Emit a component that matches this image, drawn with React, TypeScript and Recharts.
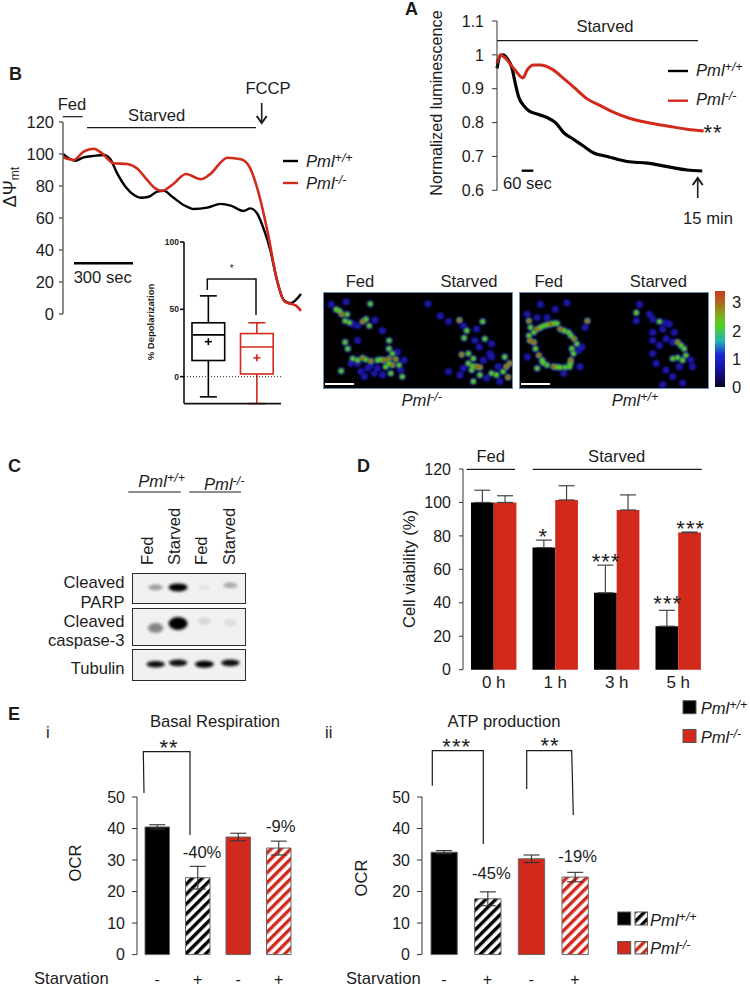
import {
  Bar,
  Cell,
  ComposedChart,
  ErrorBar,
  Line,
  ReferenceLine,
  Scatter,
  ScatterChart,
  XAxis,
  YAxis,
} from "recharts";

const BLACK = "#000000";
const RED = "#d1291b";
const INK = "#1c1c1c";
const FONT = "'Liberation Sans', Arial, sans-serif";

// panel A, minutes / normalized luminescence
const lumTimeWt = [0, 0.24, 0.44, 0.73, 1.1, 1.34, 1.59, 1.95, 2.32, 2.93, 3.66, 4.27, 4.88, 5.61, 6.34, 7.07, 8.05, 9.51, 10.98, 12.44, 13.9, 15];
const lumWt = [0.96, 0.998, 1.0, 0.99, 0.96, 0.915, 0.875, 0.85, 0.835, 0.825, 0.815, 0.8, 0.77, 0.75, 0.73, 0.71, 0.7, 0.685, 0.68, 0.67, 0.66, 0.657];
const lumTimeKo = [0, 0.24, 0.61, 1.22, 1.9, 2.2, 2.68, 3.17, 4.02, 4.88, 5.61, 6.59, 7.56, 8.54, 9.51, 10.98, 12.44, 13.9, 15.1];
const lumKo = [0.975, 1.0, 0.99, 0.96, 0.932, 0.955, 0.97, 0.97, 0.958, 0.93, 0.905, 0.87, 0.85, 0.83, 0.815, 0.8, 0.79, 0.78, 0.775];

// panel B, seconds / delta psi
const psiTimeWt = [0, 29, 62, 104, 155, 206, 239, 273, 315, 358, 392, 433, 475, 509, 551, 610, 660, 728, 795, 846, 910, 944, 978, 1011, 1045, 1079, 1112, 1146, 1200];
const psiWt = [100, 97.3, 95.8, 97.9, 98.8, 99.4, 96.7, 87.9, 79.6, 74.4, 72.7, 73.3, 76.5, 77, 73.3, 68, 65.6, 66.5, 68.8, 67.7, 64.4, 66, 63, 53.5, 40, 21, 8.8, 6.7, 12.5];
const psiTimeKo = [0, 54, 104, 155, 197, 256, 323, 374, 424, 465, 499, 550, 620, 695, 737, 830, 897, 940, 982, 1033, 1075, 1118, 1175, 1200];
const psiKo = [97.9, 96.3, 101.5, 103.3, 100.4, 94.2, 93.8, 91, 83.8, 78.5, 77, 80.6, 87.5, 84.2, 86.9, 97.7, 96.7, 92, 77.5, 50.4, 23.3, 7.7, 5.2, 2];

// panel B inset
const boxNames = ["wt", "ko"];
const boxLow = [-15, -20];
const boxQ1 = [12, 2];
const boxMedian = [31, 22];
const boxQ3 = [40, 32];
const boxHigh = [60, 40];
const boxMean = [26, 14];
const boxColors = [BLACK, RED];

// panel D
const viabilityHours = ["0 h", "1 h", "3 h", "5 h"];
const viabilityWt = [100, 73, 46, 26];
const viabilityKo = [100, 101.5, 95.5, 82];
const viabilityWtErr = [7.3, 4.5, 16.5, 9.5];
const viabilityKoErr = [4, 8.5, 9, 0.3];

// panel E
const starvationSigns = ["-", "+", "-", "+"];
const basalOcr = [40.5, 24.4, 37.3, 33.8];
const basalErr = [0.7, 3.6, 1.2, 2.2];
const atpOcr = [32.5, 17.7, 30.4, 24.6];
const atpErr = [0.5, 2.2, 1.2, 1.5];
const ocrFills = [BLACK, "url(#hatchBlack)", RED, "url(#hatchRed)"];

// panel C, band strength per lane
const laneCenters = [0.204, 0.406, 0.643, 0.877];
const parpBands = [0.35, 1, 0.06, 0.3];
const caspaseBands = [0.45, 1, 0.1, 0.08];
const tubulinBands = [0.95, 0.95, 1, 0.95];

// heat map spots: x, y, level
const heatKo: number[][] = [
  [30, 130, 1], [45, 145, 2], [62, 160, 3], [78, 160, 2], [55, 150, 2], [72, 180, 2], [85, 185, 2], [95, 190, 1], [110, 195, 1],
  [125, 182, 3], [135, 175, 2], [145, 195, 2], [162, 178, 1], [148, 128, 2], [75, 122, 1], [185, 210, 1],
  [72, 245, 2], [80, 265, 2], [110, 240, 1], [95, 295, 2], [125, 293, 3], [110, 300, 2], [135, 298, 2], [150, 303, 3],
  [170, 300, 2], [180, 298, 2], [190, 300, 3], [205, 295, 3], [225, 297, 3], [205, 240, 2], [205, 265, 2], [215, 280, 2],
  [230, 275, 1], [195, 320, 2], [205, 310, 2], [215, 315, 3], [235, 315, 2], [210, 340, 2], [245, 350, 2], [185, 345, 1],
  [160, 340, 1], [140, 325, 1], [120, 335, 1], [110, 310, 1], [90, 310, 1], [130, 350, 1], [60, 333, 2],
  [240, 330, 1], [250, 300, 1], [170, 325, 1], [150, 315, 1],
  [323, 128, 1], [360, 165, 1], [385, 182, 1], [418, 178, 3], [430, 195, 1], [488, 182, 2], [440, 210, 2],
  [470, 205, 1], [432, 232, 2], [465, 240, 1], [495, 235, 2], [515, 250, 1], [478, 260, 1], [510, 280, 1],
  [425, 283, 3], [445, 280, 2], [460, 295, 2], [490, 300, 1], [445, 310, 2], [458, 318, 2], [470, 320, 3], [480, 322, 3],
  [455, 330, 2], [430, 325, 1], [385, 335, 1], [420, 345, 1], [460, 365, 2], [515, 340, 2], [530, 345, 2],
  [550, 335, 2], [560, 320, 3], [565, 352, 3], [555, 290, 2], [570, 310, 3], [500, 355, 1], [540, 365, 1],
  [480, 345, 2], [535, 320, 1], [515, 290, 1],
];
const heatWt: number[][] = [
  [625, 180, 3], [630, 200, 2], [628, 240, 3], [640, 245, 3], [650, 205, 3], [660, 200, 2], [670, 195, 2], [680, 192, 2], [690, 190, 3],
  [700, 188, 2], [710, 188, 2], [720, 205, 3], [732, 210, 2], [745, 215, 2], [752, 225, 2], [762, 235, 3], [770, 250, 2], [755, 265, 2], [760, 280, 2],
  [752, 300, 3], [750, 310, 2], [748, 320, 2], [735, 322, 2], [720, 322, 2], [710, 321, 2], [700, 320, 3], [680, 315, 2], [668, 308, 2], [655, 285, 3], [645, 265, 2],
  [665, 300, 2], [640, 215, 2], [625, 225, 2], [802, 180, 3], [795, 200, 1], [650, 325, 2], [620, 290, 1],
  [650, 170, 1], [680, 170, 1], [705, 145, 1], [740, 125, 1], [660, 130, 1], [775, 270, 1], [785, 260, 1],
  [730, 340, 1], [780, 320, 1], [620, 160, 1],
  [950, 155, 2], [950, 180, 1], [960, 130, 1], [1000, 175, 1], [1020, 182, 2], [1035, 185, 1], [1050, 190, 1], [1000, 215, 1],
  [1030, 205, 1], [1065, 215, 1], [1075, 245, 3], [1085, 255, 2], [1095, 265, 2], [1060, 245, 1], [1100, 285, 2], [1075, 292, 2],
  [1060, 295, 2], [1115, 300, 1], [1090, 300, 2], [1020, 255, 1], [1000, 280, 1], [1010, 310, 1], [1040, 330, 1],
  [1080, 320, 1], [1120, 320, 1], [1030, 375, 1], [1090, 370, 1], [1060, 350, 1], [990, 160, 1], [1000, 240, 1],
  [1040, 235, 1],
];

const zipLine = (t: number[], v: number[]) => t.map((x, i) => ({ t: x, v: v[i] }));

// axisX/top/bottom are page pixels of the plot area
const frame = (axisX: number, top: number, bottom: number, w: number, below = 10, axisShown = false) => ({
  style: { position: "absolute" as const, left: axisX - 44, top: top - 10 },
  width: w + 44 + 8,
  height: bottom - top + 10 + below,
  margin: { top: 10, right: 8, left: 0, bottom: axisShown ? 0 : below },
});

const tickFont = { fontSize: 16, fill: INK, fontFamily: FONT };

const T = ({ x, y, size = 16.6, anchor = "start", bold = false, rot = false, children }: any) => (
  <text
    x={x}
    y={y}
    fontSize={size}
    fontFamily={FONT}
    fontWeight={bold ? 700 : 400}
    textAnchor={anchor}
    fill={INK}
    transform={rot ? `rotate(-90 ${x} ${y})` : undefined}
  >
    {children}
  </text>
);

const Pml = ({ x, y, sup, anchor = "start" }: any) => (
  <text x={x} y={y} fontSize={16.6} fontFamily={FONT} fontStyle="italic" textAnchor={anchor} fill={INK}>
    Pml
    <tspan dy={-5} fontSize={12.5}>
      {sup}
    </tspan>
  </text>
);

const Stars = ({ x, y, children }: any) => (
  <text x={x} y={y + 12} fontSize={22} letterSpacing={1} fontFamily={FONT} textAnchor="middle" fill={INK}>
    {children}
  </text>
);

const Seg = ({ pts, color = INK, w = 1.2 }: any) => (
  <polyline points={pts} fill="none" stroke={color} strokeWidth={w} />
);

const Arrow = ({ x, from, to }: any) => {
  const d = to > from ? -1 : 1;
  return (
    <polyline
      points={`${x - 5},${to + d * 7} ${x},${to} ${x + 5},${to + d * 7}`}
      fill="none"
      stroke={INK}
      strokeWidth={2}
    />
  );
};

const LumChart = () => {
  const f = frame(496.7, 20.7, 190, 208);
  return (
    <ComposedChart {...f}>
      <XAxis type="number" dataKey="t" domain={[0, 15.2]} hide />
      <YAxis
        width={44}
        domain={[0.6, 1.1]}
        ticks={[0.6, 0.7, 0.8, 0.9, 1, 1.1]}
        interval={0}
        tick={tickFont}
        tickSize={5}
        tickMargin={8}
        stroke="#333"
      />
      <Line data={zipLine(lumTimeWt, lumWt)} dataKey="v" type="monotone" stroke={BLACK} strokeWidth={3.2} dot={false} isAnimationActive={false} />
      <Line data={zipLine(lumTimeKo, lumKo)} dataKey="v" type="monotone" stroke={RED} strokeWidth={3} dot={false} isAnimationActive={false} />
    </ComposedChart>
  );
};

const PsiChart = () => {
  const f = frame(62.7, 122, 314, 238);
  return (
    <ComposedChart {...f}>
      <XAxis type="number" dataKey="t" domain={[0, 1200]} hide />
      <YAxis
        width={44}
        domain={[0, 120]}
        ticks={[0, 20, 40, 60, 80, 100, 120]}
        interval={0}
        tick={{ ...tickFont, fontSize: 16.5 }}
        tickSize={4}
        tickMargin={5}
        stroke="#666"
        strokeWidth={1.5}
      />
      <Line data={zipLine(psiTimeWt, psiWt)} dataKey="v" type="monotone" stroke={BLACK} strokeWidth={2.4} dot={false} isAnimationActive={false} />
      <Line data={zipLine(psiTimeKo, psiKo)} dataKey="v" type="monotone" stroke={RED} strokeWidth={2.6} dot={false} isAnimationActive={false} />
    </ComposedChart>
  );
};

const BoxShape = ({ x, y, width, height, payload, index }: any) => {
  const top = Math.min(y, y + height);
  const ppu = Math.abs(height) / (payload.q3 - payload.q1);
  const yOf = (v: number) => top + (payload.q3 - v) * ppu;
  const c = boxColors[index];
  const mid = x + width / 2;
  return (
    <g stroke={c} strokeWidth={1.6} fill="none">
      <rect x={x} y={top} width={width} height={Math.abs(height)} fill="#fff" />
      <line x1={mid} x2={mid} y1={yOf(payload.high)} y2={top} />
      <line x1={mid} x2={mid} y1={yOf(payload.q1)} y2={yOf(payload.low)} />
      <line x1={mid - 8.5} x2={mid + 8.5} y1={yOf(payload.high)} y2={yOf(payload.high)} />
      <line x1={mid - 8.5} x2={mid + 8.5} y1={yOf(payload.low)} y2={yOf(payload.low)} />
      <line x1={x} x2={x + width} y1={yOf(payload.median)} y2={yOf(payload.median)} />
      <line x1={mid - 3.5} x2={mid + 3.5} y1={yOf(payload.mean)} y2={yOf(payload.mean)} />
      <line x1={mid} x2={mid} y1={yOf(payload.mean) - 3.5} y2={yOf(payload.mean) + 3.5} />
    </g>
  );
};

const BoxInset = () => {
  const data = boxNames.map((name, i) => ({
    name,
    low: boxLow[i],
    q1: boxQ1[i],
    median: boxMedian[i],
    q3: boxQ3[i],
    high: boxHigh[i],
    mean: boxMean[i],
  }));
  const f = frame(184.3, 241.7, 403.3, 97, 6, true);
  return (
    <ComposedChart {...f} data={data}>
      <XAxis dataKey="name" tick={false} tickLine={false} height={6} stroke="#111" strokeWidth={1.6} />
      <YAxis
        width={44}
        domain={[-20, 100]}
        ticks={[0, 50, 100]}
        interval={0}
        tick={{ fontSize: 8.5, fontWeight: 700, fill: INK, fontFamily: FONT }}
        tickSize={4}
        tickMargin={1}
        stroke="#111"
        strokeWidth={1.6}
      />
      <ReferenceLine y={0} stroke="#222" strokeDasharray="1 2" />
      <Bar dataKey={(d: any) => [d.q1, d.q3]} barSize={32.7} shape={BoxShape} isAnimationActive={false} />
    </ComposedChart>
  );
};

const ViabilityChart = () => {
  const data = viabilityHours.map((hour, i) => ({
    hour,
    wt: viabilityWt[i],
    ko: viabilityKo[i],
    wtErr: [0, viabilityWtErr[i]],
    koErr: [0, viabilityKoErr[i]],
  }));
  const f = frame(462.7, 469.3, 670, 246, 26, true);
  return (
    <ComposedChart {...f} data={data} barGap={0}>
      <XAxis dataKey="hour" tick={{ ...tickFont, fontSize: 17 }} tickLine={false} axisLine={false} tickMargin={0} height={26} />
      <YAxis
        width={44}
        domain={[0, 120]}
        ticks={[0, 20, 40, 60, 80, 100, 120]}
        interval={0}
        tick={tickFont}
        tickSize={4}
        tickMargin={8}
        stroke="#333"
      />
      <Bar dataKey="wt" fill={BLACK} barSize={22.7} isAnimationActive={false}>
        <ErrorBar dataKey="wtErr" direction="y" width={8} stroke="#444" strokeWidth={1.2} isAnimationActive={false} />
      </Bar>
      <Bar dataKey="ko" fill={RED} barSize={22.7} isAnimationActive={false}>
        <ErrorBar dataKey="koErr" direction="y" width={8} stroke="#444" strokeWidth={1.2} isAnimationActive={false} />
      </Bar>
    </ComposedChart>
  );
};

const OcrChart = ({ axisX, w, barW, values, errs }: any) => {
  const data = starvationSigns.map((sign, i) => ({ sign, ocr: values[i], err: errs[i] }));
  const f = frame(axisX, 796.7, 954.3, w, 32, true);
  return (
    <ComposedChart {...f} data={data}>
      <XAxis dataKey="sign" tick={tickFont} tickLine={false} axisLine={false} tickMargin={13} height={32} />
      <YAxis
        width={44}
        domain={[0, 50]}
        ticks={[0, 10, 20, 30, 40, 50]}
        interval={0}
        tick={tickFont}
        tickSize={5}
        tickMargin={7}
        stroke="#333"
      />
      <Bar dataKey="ocr" barSize={barW} stroke="#666" strokeWidth={1} isAnimationActive={false}>
        {data.map((d, i) => (
          <Cell key={i} fill={ocrFills[i]} />
        ))}
        <ErrorBar dataKey="err" direction="y" width={8} stroke="#333" strokeWidth={1.1} isAnimationActive={false} />
      </Bar>
    </ComposedChart>
  );
};

const Blot = ({ left, top, w, h, bands, thick, yPos }: any) => {
  const data = bands.map((level: number, i: number) => ({ lane: laneCenters[i], y: yPos[i], level }));
  return (
    <div
      style={{
        position: "absolute",
        left,
        top,
        width: w,
        height: h,
        boxSizing: "border-box",
        border: "1.4px solid #2a2a2a",
        background: "#f1f1f1",
      }}
    >
      <ScatterChart width={w - 3} height={h - 3} margin={{ top: 0, right: 0, bottom: 0, left: 0 }}>
        <XAxis type="number" dataKey="lane" domain={[0, 1]} hide />
        <YAxis type="number" dataKey="y" domain={[0, 1]} hide />
        <Scatter
          data={data}
          isAnimationActive={false}
          shape={({ cx, cy, payload }: any) => (
            <ellipse
              cx={cx}
              cy={cy}
              rx={6 + 3.5 * payload.level}
              ry={thick * (0.55 + 0.45 * payload.level)}
              fill="#000"
              opacity={payload.level}
              filter="url(#softBand)"
            />
          )}
        />
      </ScatterChart>
    </div>
  );
};

const heatLayers = [
  { min: 1, r: 3.6, fill: "#1a14a8" },
  { min: 2, r: 2.6, fill: "#58cf22" },
  { min: 3, r: 1.7, fill: "#c9361e" },
];

const HeatPanel = ({ left, spots, domain }: any) => {
  const data = spots.map((s: number[]) => ({ x: s[0], y: s[1], level: s[2] }));
  return (
    <div
      style={{
        position: "absolute",
        left,
        top: 291.5,
        width: 190,
        height: 97,
        boxSizing: "border-box",
        background: "#000",
        border: "1px solid #6d8cb5",
        overflow: "hidden",
      }}
    >
      <ScatterChart width={188} height={95} margin={{ top: 0, right: 0, bottom: 0, left: 0 }}>
        <XAxis type="number" dataKey="x" domain={domain} hide />
        <YAxis type="number" dataKey="y" domain={[95, 385]} reversed hide />
        {heatLayers.map((layer) => (
          <Scatter
            key={layer.min}
            data={data.filter((d: any) => d.level >= layer.min)}
            isAnimationActive={false}
            shape={({ cx, cy }: any) => <circle cx={cx} cy={cy} r={layer.r} fill={layer.fill} filter="url(#soft)" />}
          />
        ))}
      </ScatterChart>
    </div>
  );
};

const Annotations = () => (
  <svg width={750} height={987} style={{ position: "absolute", left: 0, top: 0, pointerEvents: "none" }}>
    {/* A */}
    <T x={405} y={15} size={18} bold>A</T>
    <T x={605} y={32} anchor="middle">Starved</T>
    <Seg pts="497,40.7 698,40.7" />
    <T x={442} y={103} size={16.2} anchor="middle" rot>Normalized luminescence</T>
    <Seg pts="668,71 688,71" color={BLACK} w={2.4} />
    <Pml x={696} y={76} sup="+/+" />
    <Seg pts="668,100.7 688,100.7" color={RED} w={2.4} />
    <Pml x={696} y={105} sup="-/-" />
    <Stars x={713} y={128}>**</Stars>
    <Seg pts="521.7,170.7 533.3,170.7" color={BLACK} w={2.4} />
    <T x={503} y={189}>60 sec</T>
    <Seg pts="697.7,198 697.7,179" w={1.6} />
    <Arrow x={697.7} from={198} to={178} />
    <T x={708} y={224} anchor="middle">15 min</T>

    {/* B */}
    <T x={9} y={80} size={18} bold>B</T>
    <T x={72} y={110} anchor="middle">Fed</T>
    <Seg pts="62.7,116.7 82.7,116.7" />
    <T x={156.7} y={121} anchor="middle">Starved</T>
    <Seg pts="87,127.7 256,127.7" />
    <T x={268} y={94} anchor="middle">FCCP</T>
    <Seg pts="261.7,103 261.7,122" w={1.6} />
    <Arrow x={261.7} from={103} to={123} />
    <text x={16} y={187} fontSize={18} fontFamily={FONT} textAnchor="middle" fill={INK} transform="rotate(-90 16 187)">
      ΔΨ
      <tspan dy={3} fontSize={12}>mt</tspan>
    </text>
    <Seg pts="283,161 298,161" color={BLACK} w={2.4} />
    <Pml x={306} y={167} sup="+/+" />
    <Seg pts="283,183 298,183" color={RED} w={2.4} />
    <Pml x={306} y={189} sup="-/-" />
    <Seg pts="74,263.3 133,263.3" color={BLACK} w={2.4} />
    <T x={102.7} y={283} anchor="middle">300 sec</T>
    <T x={154} y={322} size={9.5} bold anchor="middle" rot>% Depolarization</T>
    <Seg pts="207.3,290 207.3,279 256,279 256,315" color="#111" w={1.5} />
    <text x={231.7} y={272} fontSize={10} fontFamily={FONT} textAnchor="middle" fill={INK}>*</text>

    {/* heat maps */}
    <T x={360} y={287.3} anchor="middle">Fed</T>
    <T x={469} y={287.3} anchor="middle">Starved</T>
    <T x={548.7} y={287.3} anchor="middle">Fed</T>
    <T x={658.3} y={287.3} anchor="middle">Starved</T>
    <Pml x={421.7} y={405.7} sup="-/-" anchor="middle" />
    <Pml x={635} y={405.7} sup="+/+" anchor="middle" />
    <T x={732} y={308}>3</T>
    <T x={732} y={336.5}>2</T>
    <T x={732} y={365}>1</T>
    <T x={732} y={392.5}>0</T>

    {/* C */}
    <T x={8} y={472} size={18} bold>C</T>
    <Pml x={138.3} y={487.3} sup="+/+" />
    <Seg pts="128.3,492 180.7,492" />
    <Pml x={204} y={490} sup="-/-" />
    <Seg pts="189.3,492 241,492" />
    <T x={153} y={565} rot>Fed</T>
    <T x={180} y={565} rot>Starved</T>
    <T x={207} y={565} rot>Fed</T>
    <T x={235} y={565} rot>Starved</T>
    <T x={124.5} y={588.3} anchor="end">Cleaved</T>
    <T x={124.5} y={607.7} anchor="end">PARP</T>
    <T x={124.5} y={626.7} anchor="end">Cleaved</T>
    <T x={124.5} y={646} anchor="end">caspase-3</T>
    <T x={124.5} y={674.3} anchor="end">Tubulin</T>

    {/* D */}
    <T x={357} y={472} size={18} bold>D</T>
    <T x={490.7} y={462} anchor="middle">Fed</T>
    <Seg pts="466.7,469.3 515,469.3" />
    <T x={616.7} y={462} anchor="middle">Starved</T>
    <Seg pts="532.7,469.3 701.7,469.3" />
    <T x={415} y={569} anchor="middle" rot>Cell viability (%)</T>
    <Stars x={543.3} y={531.7}>*</Stars>
    <Stars x={606} y={557.3}>***</Stars>
    <Stars x={667.7} y={599.3}>***</Stars>
    <Stars x={690.7} y={524}>***</Stars>
    <rect x={683} y={700.7} width={13} height={13} fill={BLACK} stroke="#555" />
    <Pml x={700.7} y={714} sup="+/+" />
    <rect x={683} y={729.5} width={13} height={13} fill={RED} stroke="#555" />
    <Pml x={700.7} y={743} sup="-/-" />

    {/* E */}
    <T x={8} y={720} size={18} bold>E</T>
    <T x={46} y={738}>i</T>
    <T x={325} y={738}>ii</T>
    <T x={215} y={726.7} anchor="middle">Basal Respiration</T>
    <T x={504} y={726.7} anchor="middle">ATP production</T>
    <Stars x={169} y={743.3}>**</Stars>
    <Seg pts="144,793 143.3,751.7 190,751.7 190,835" />
    <Stars x={456.7} y={741.7}>***</Stars>
    <Seg pts="432.3,785.7 432.3,750.7 483.3,750.7 483.3,844" />
    <Stars x={550} y={740.7}>**</Stars>
    <Seg pts="526.7,789 526.7,750.7 571.7,750.7 573.3,815" />
    <T x={202} y={857.7} anchor="middle">-40%</T>
    <T x={280.7} y={832} anchor="middle">-9%</T>
    <T x={491.3} y={879} anchor="middle">-45%</T>
    <T x={577.7} y={862} anchor="middle">-19%</T>
    <T x={81} y={863} anchor="middle" rot>OCR</T>
    <T x={367} y={878} anchor="middle" rot>OCR</T>
    <T x={34} y={984}>Starvation</T>
    <T x={346} y={984}>Starvation</T>
    <rect x={617.7} y={912} width={13} height={13} fill={BLACK} stroke="#555" />
    <rect x={635} y={912} width={12.5} height={13} fill="url(#hatchBlack)" stroke="#555" />
    <Pml x={650} y={925.7} sup="+/+" />
    <rect x={617.7} y={941.5} width={13} height={12.5} fill={RED} stroke="#555" />
    <rect x={635} y={941.5} width={12.5} height={12.5} fill="url(#hatchRed)" stroke="#555" />
    <Pml x={650} y={954} sup="-/-" />
  </svg>
);

export default function App() {
  return (
    <div style={{ position: "absolute", left: 0, top: 0, width: 750, height: 987, background: "#fff", overflow: "hidden" }}>
      <svg width={0} height={0} style={{ position: "absolute" }}>
        <defs>
          <pattern id="hatchBlack" width={7} height={7} patternUnits="userSpaceOnUse" patternTransform="rotate(45)">
            <rect width={7} height={7} fill="#fff" />
            <rect width={3.4} height={7} fill={BLACK} />
          </pattern>
          <pattern id="hatchRed" width={7} height={7} patternUnits="userSpaceOnUse" patternTransform="rotate(45)">
            <rect width={7} height={7} fill="#fff" />
            <rect width={3.4} height={7} fill={RED} />
          </pattern>
          <filter id="soft" x="-60%" y="-60%" width="220%" height="220%">
            <feGaussianBlur stdDeviation={0.8} />
          </filter>
          <filter id="softBand" x="-60%" y="-100%" width="220%" height="300%">
            <feGaussianBlur stdDeviation={1.5} />
          </filter>
        </defs>
      </svg>

      <LumChart />
      <PsiChart />
      <BoxInset />
      <ViabilityChart />
      <OcrChart axisX={137.3} w={162} barW={24.5} values={basalOcr} errs={basalErr} />
      <OcrChart axisX={422.3} w={174.7} barW={26.3} values={atpOcr} errs={atpErr} />

      <HeatPanel left={322.5} spots={heatKo} domain={[8, 577]} />
      <HeatPanel left={519} spots={heatWt} domain={[598, 1167]} />
      <div style={{ position: "absolute", left: 325, top: 382.5, width: 29, height: 2, background: "#fff" }} />
      <div style={{ position: "absolute", left: 521, top: 382.5, width: 28.5, height: 2, background: "#fff" }} />
      <div
        style={{
          position: "absolute",
          left: 715,
          top: 290.5,
          width: 10,
          height: 96.5,
          background: "linear-gradient(#c9361e 0%, #a8701c 14%, #7fb020 26%, #4fd020 36%, #22b4b0 52%, #1a28d8 66%, #140c90 85%, #05031c 100%)",
        }}
      />

      <Blot left={131.5} top={573} w={114} h={31} bands={parpBands} thick={4} yPos={[0.52, 0.52, 0.52, 0.6]} />
      <Blot left={131.5} top={608} w={114} h={37.5} bands={caspaseBands} thick={6.5} yPos={[0.45, 0.58, 0.65, 0.6]} />
      <Blot left={131.5} top={649} w={114} h={31.5} bands={tubulinBands} thick={3.4} yPos={[0.5, 0.55, 0.5, 0.55]} />

      <Annotations />
    </div>
  );
}
